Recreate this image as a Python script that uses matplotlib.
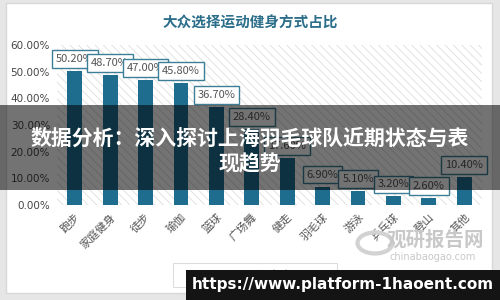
import matplotlib.pyplot as plt
import matplotlib.patches as mpatches
import matplotlib as mpl

plt.rcParams['font.family'] = ['Noto Sans CJK SC', 'DejaVu Sans']
mpl.rcParams['hatch.linewidth'] = 0.6

# data
categories = ['跑步', '家庭健身', '徒步', '瑜伽', '篮球', '广场舞', '健走', '羽毛球', '游泳', '乒乓球', '登山', '其他']
values = [50.2, 48.7, 47.0, 45.8, 36.7, 28.4, 17.6, 6.9, 5.1, 3.2, 2.6, 10.4]
yticks = [0, 10, 20, 30, 40, 50, 60]

teal = '#1e6d8e'

fig = plt.figure(figsize=(5, 3), dpi=100)
fig.patch.set_facecolor('#e6e6e6')

# white panel
fig.add_artist(mpatches.Rectangle((0.012, 0.025), 0.972, 0.965, transform=fig.transFigure,
                                  facecolor='white', edgecolor='#d8d8d8', lw=1, zorder=-1))

ax = fig.add_axes([0.114, 0.317, 0.85, 0.533])
ax.set_zorder(1)
ax.set_facecolor('white')
ax.add_patch(mpatches.Rectangle((0, 0), 1, 1, transform=ax.transAxes, facecolor='white',
                                edgecolor='#dedede', hatch='\\\\\\\\', lw=0, zorder=0))

x = list(range(len(categories)))
ax.bar(x, values, width=0.42, color=teal, zorder=2)
for xi, v in zip(x, values):
    ax.annotate(f'{v:.2f}%', (xi, v), xytext=(0, 5), textcoords='offset points',
                ha='center', va='bottom', fontsize=8, color='#555555', zorder=4,
                bbox=dict(boxstyle='square,pad=0.35', fc='white', ec='#3d7f96', lw=1))

ax.set_xlim(-0.5, 11.5)
ax.set_ylim(0, 60)
ax.set_yticks(yticks)
ax.set_yticklabels([f'{t:.2f}%' for t in yticks], fontsize=7.5, color='#444444',
                   family=['DejaVu Sans'])
ax.set_xticks(x)
ax.set_xticklabels(categories, rotation=45, ha='right', rotation_mode='anchor',
                   fontsize=8, color='#555555')
ax.tick_params(length=0, pad=5)
for s in ax.spines.values():
    s.set_visible(False)

fig.text(0.5, 0.925, '大众选择运动健身方式占比', ha='center', va='center',
         fontsize=10.5, color='#2b6e8a', fontweight='bold')

# legend box
fig.add_artist(mpatches.Rectangle((0.346, 0.043), 0.328, 0.08, transform=fig.transFigure,
                                  facecolor='white', edgecolor='#dddddd', lw=0.8, zorder=2))
fig.text(0.455, 0.083, '■ 占比（%）', ha='left', va='center', fontsize=8, color='#444444', zorder=3)

# watermark
fig.add_artist(mpatches.Circle((0.75, 0.19), 0.035, transform=fig.transFigure, fill=False,
                               ec='#d2d2d2', lw=3, zorder=3))
fig.text(0.87, 0.2, '观研报告网', ha='center', va='center', fontsize=14,
         color='#c8c8c8', fontweight='bold', zorder=3)
fig.text(0.865, 0.145, 'chinabaogao.com', ha='center', va='center', fontsize=7,
         color='#c8c8c8', zorder=3, family=['DejaVu Sans'])

# dark overlay band with headline
fig.add_artist(mpatches.Rectangle((0, 0.367), 1, 0.283, transform=fig.transFigure,
                                  facecolor='black', alpha=0.55, lw=0, zorder=5))
fig.text(0.5, 0.54, '数据分析：深入探讨上海羽毛球队近期状态与表', ha='center', va='center',
         fontsize=15, color='white', fontweight='bold', zorder=6)
fig.text(0.5, 0.455, '现趋势', ha='center', va='center',
         fontsize=15, color='white', fontweight='bold', zorder=6)

# url box
fig.add_artist(mpatches.Rectangle((0.372, 0), 0.628, 0.1, transform=fig.transFigure,
                                  facecolor='#141414', lw=0, zorder=5))
fig.text(0.686, 0.05, 'https://www.platform-1haoent.com', ha='center', va='center',
         fontsize=11, color='white', fontweight='bold', zorder=6, family=['DejaVu Sans'])

fig.savefig('out.png', dpi=100, facecolor=fig.get_facecolor())
